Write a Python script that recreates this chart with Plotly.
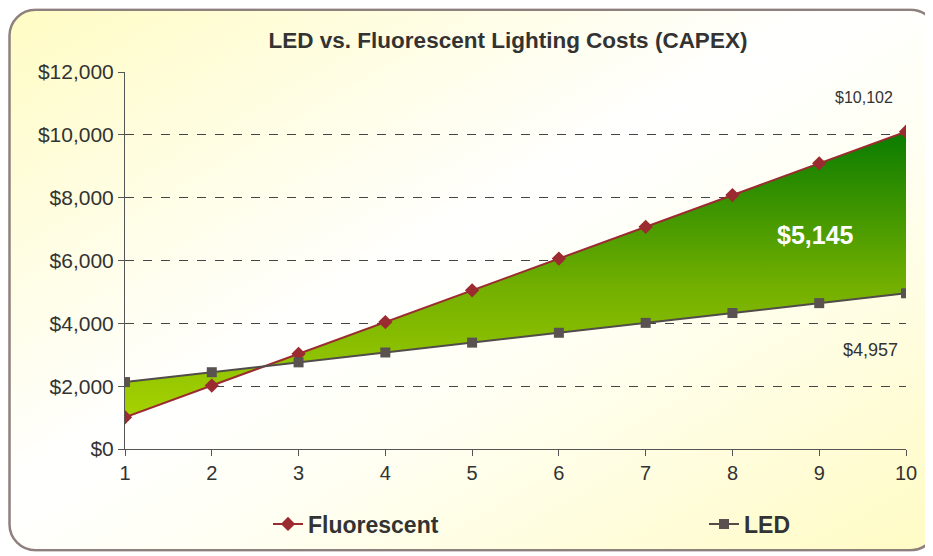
import plotly.graph_objects as go
import urllib.parse

years = [1, 2, 3, 4, 5, 6, 7, 8, 9, 10]
fluorescent = [1010, 2020, 3031, 4041, 5051, 6061, 7071, 8082, 9092, 10102]
led = [2130, 2444, 2758, 3072, 3386, 3700, 4015, 4329, 4643, 4957]
y_ticks = [0, 2000, 4000, 6000, 8000, 10000, 12000]
y_tick_labels = ["$0", "$2,000", "$4,000", "$6,000", "$8,000", "$10,000", "$12,000"]

# page has an 8px body margin; figure sized to fit the window exactly
OFF = 8
W, H = 933 - OFF, 556 - OFF
L, R, T, B = 125 - OFF, 27, 72 - OFF, 106
pw, ph = W - L - R, H - T - B

FONT = "Liberation Sans, Arial, sans-serif"
TXT = "#333333"

fig = go.Figure()

fig.add_trace(go.Scatter(
    x=years, y=led, name="LED", mode="lines",
    line=dict(width=0), showlegend=False, hoverinfo="skip",
))
fig.add_trace(go.Scatter(
    x=years, y=fluorescent, name="Fluorescent", mode="lines",
    line=dict(width=0), fill="tonexty",
    fillgradient=dict(type="vertical",
                      colorscale=[[0, "#a6d200"], [0.45, "#74b000"], [1, "#0a7b00"]]),
    showlegend=False, hoverinfo="skip",
))
fig.add_trace(go.Scatter(
    x=years, y=fluorescent, name="Fluorescent", mode="lines+markers",
    line=dict(color="#9b2b30", width=2),
    marker=dict(symbol="diamond", size=11, color="#9b2b30"),
    legend="legend",
))
fig.add_trace(go.Scatter(
    x=years, y=led, name="LED", mode="lines+markers",
    line=dict(color="#514b4a", width=2),
    marker=dict(symbol="square", size=10, color="#5a5250"),
    legend="legend2",
))

# annotations (positions given in page pixels)
diff = fluorescent[-1] - led[-1]
def px_to_data(px, py):
    return 1 + (px - 125) / pw * 9, (450 - py) / ph * 12000

ax, ay = px_to_data(864, 98)
fig.add_annotation(x=ax, y=ay, text=f"${fluorescent[-1]:,}", showarrow=False,
                   font=dict(family=FONT, size=16, color=TXT))
ax, ay = px_to_data(870, 351)
fig.add_annotation(x=ax, y=ay, text=f"${led[-1]:,}", showarrow=False,
                   font=dict(family=FONT, size=18, color=TXT))
ax, ay = px_to_data(815, 235)
fig.add_annotation(x=ax, y=ay, text=f"<b>${diff:,}</b>", showarrow=False,
                   font=dict(family=FONT, size=25, color="white"))

# background rounded box with diagonal gradient (figure pixel coords)
bx, by, bw, bh = 0, 0, 930, 545
svg = (
    f'<svg xmlns="http://www.w3.org/2000/svg" width="{bw}" height="{bh}" viewBox="0 0 {bw} {bh}" preserveAspectRatio="none">'
    '<defs><linearGradient id="g" x1="0" y1="0" x2="1" y2="1">'
    '<stop offset="0" stop-color="#fffcc4"/>'
    '<stop offset="0.45" stop-color="#ffffff"/>'
    '<stop offset="0.6" stop-color="#fffff4"/>'
    '<stop offset="1" stop-color="#fffbc4"/>'
    '</linearGradient></defs>'
    f'<rect x="1.5" y="1.5" width="{bw-3}" height="{bh-3}" rx="26" ry="26" fill="url(#g)" stroke="#8e817d" stroke-width="2.5"/>'
    '</svg>'
)
src = "data:image/svg+xml;charset=utf-8," + urllib.parse.quote(svg)
fig.add_layout_image(dict(
    source=src, xref="paper", yref="paper",
    x=(bx - L) / pw, y=(H - B - by) / ph,
    sizex=bw / pw, sizey=bh / ph,
    xanchor="left", yanchor="top", sizing="stretch", layer="below",
))

legend_font = dict(family=FONT, size=23, color=TXT, weight="bold")
leg_y = (450 - 524) / ph

fig.update_layout(
    width=W, height=H,
    margin=dict(l=L, r=R, t=T, b=B),
    paper_bgcolor="white",
    plot_bgcolor="rgba(0,0,0,0)",
    title=dict(text="<b>LED vs. Fluorescent Lighting Costs (CAPEX)</b>",
               x=(508 - 125) / pw, xref="paper", xanchor="center",
               y=1 - (40 - OFF) / H, yanchor="middle",
               font=dict(family=FONT, size=22.5, color=TXT)),
    font=dict(family=FONT, color=TXT),
    legend=dict(orientation="h", x=(268 - 125) / pw, xanchor="left",
                y=leg_y, yanchor="middle", bgcolor="rgba(0,0,0,0)",
                font=legend_font),
    legend2=dict(orientation="h", x=(704 - 125) / pw, xanchor="left",
                 y=leg_y, yanchor="middle", bgcolor="rgba(0,0,0,0)",
                 font=legend_font),
    xaxis=dict(range=[1, 10], tickvals=years, ticktext=[str(v) for v in years],
               showgrid=False, zeroline=False, showline=True, linecolor="#555555",
               linewidth=1, ticks="outside", ticklen=6, tickcolor="#555555",
               tickfont=dict(family=FONT, size=20, color=TXT), automargin=False),
    yaxis=dict(range=[0, 12000], tickvals=y_ticks, ticktext=y_tick_labels,
               showgrid=True, gridcolor="#444444", griddash="dash", gridwidth=1,
               zeroline=False, showline=True, linecolor="#555555", linewidth=1,
               ticks="outside", ticklen=6, tickcolor="#555555",
               tickfont=dict(family=FONT, size=21, color=TXT), automargin=False),
    showlegend=True,
)

fig.write_html("out.html")
